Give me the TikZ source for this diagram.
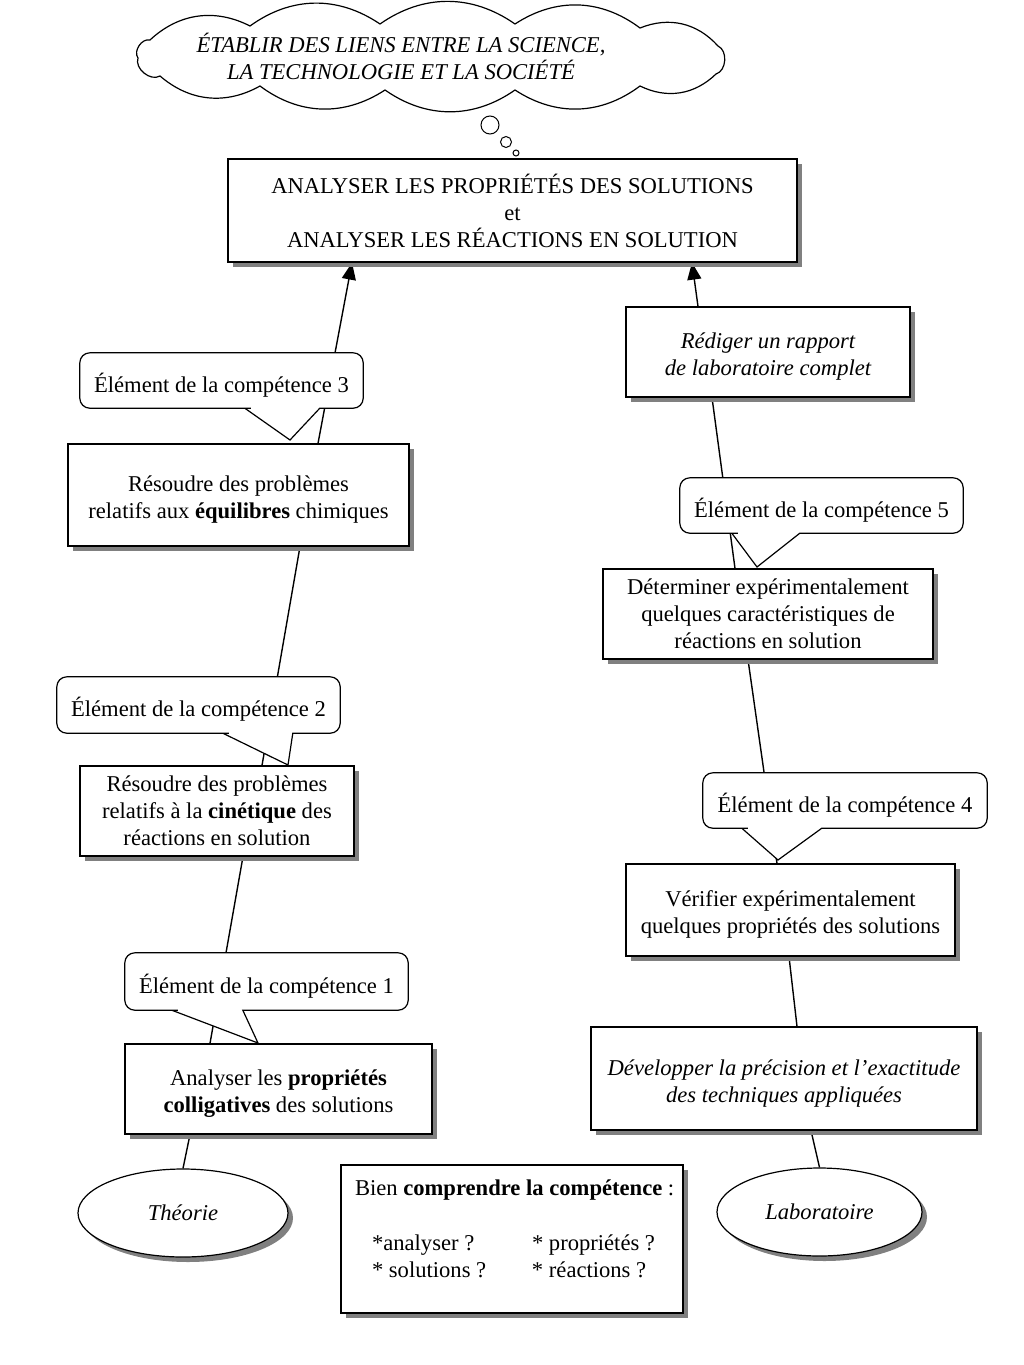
\documentclass[tikz,border=0pt]{standalone}
\usepackage{fontspec}
\setmainfont{Liberation Serif}
\usetikzlibrary{shapes.geometric,shadows,arrows.meta,calc}
\pgfdeclarelayer{bg}
\pgfdeclarelayer{mid}
\pgfsetlayers{bg,mid,main}
\newcommand{\hstrut}{\rule{0pt}{25pt}}
\newcommand{\calloutpath}[4]{%
  \filldraw[cline] ($(#1.south west)+(#2,0)$) -- #4 -- ($(#1.south west)+(#3,0)$) -- ($(#1.south west)+(#3+4,0)$)
    [rounded corners=10pt] -- (#1.south east) -- (#1.north east) -- (#1.north west) -- (#1.south west)
    -- ($(#1.south west)+(#2-4,0)$) [sharp corners] -- cycle;}
\begin{document}
\begin{tikzpicture}[x=1pt,y=-1pt,
  txt/.style={font=\fontsize{22.6}{27}\selectfont, align=center, inner sep=0pt},
  itxt/.style={font=\fontsize{22.6}{27}\selectfont\itshape, align=center, inner sep=0pt},
  shad/.style={drop shadow={shadow xshift=5pt, shadow yshift=-5pt, fill=black!50, opacity=1}},
  box/.style={rectangle, draw, fill=white, line width=1.2pt, shad},
  oval/.style={ellipse, draw, fill=white, line width=1.2pt, shad},
  ctext/.style={txt, rectangle, execute at begin node={\rule{0pt}{28pt}}},
  cline/.style={draw=black, fill=white, line width=1.2pt, line join=miter},
  cloudline/.style={draw=black, fill=white, line width=1.2pt},
  link/.style={line width=1.4pt},
  arr/.style={link, -{Triangle[length=17pt,width=14pt]}},
  bub/.style={circle, draw, line width=1pt, inner sep=0pt}
]
\useasboundingbox (0,0) rectangle (1024,1365);
\begin{pgfonlayer}{bg}
\fill[white] (0,0) rectangle (1024,1365);
\end{pgfonlayer}

% cloud
\draw[cloudline] (150,40) to[bend left=35] (250,26) to[bend left=35] (380,24) to[bend left=35] (515,24)
  to[bend left=35] (640,28) to[bend left=35] (718,46) to[bend left=70] (716,74) to[bend left=35] (640,86)
  to[bend left=35] (515,90) to[bend left=35] (385,90) to[bend left=35] (260,86) to[bend left=35] (160,76)
  to[bend left=70] (138,58) to[bend left=70] (150,40) -- cycle;
\node[itxt] (cloudtxt) at (401,56) {ÉTABLIR DES LIENS ENTRE LA SCIENCE,\\LA TECHNOLOGIE ET LA SOCIÉTÉ};
\node[bub, minimum size=18pt] (b1) at (490,125) {};
\node[bub, minimum size=11pt] (b2) at (506,142) {};
\node[bub, minimum size=6pt] (b3) at (516,153) {};

% boxes
\node[box, txt, minimum width=569pt, minimum height=103pt] (top) at (512.5,210.5)
  {ANALYSER LES PROPRIÉTÉS DES SOLUTIONS\\et\\ANALYSER LES RÉACTIONS EN SOLUTION};
\node[box, itxt, minimum width=284pt, minimum height=90pt] (red) at (768,352)
  {\hstrut Rédiger un rapport\\de laboratoire complet};
\node[box, txt, minimum width=341pt, minimum height=102pt] (eq) at (238.5,495)
  {\hstrut Résoudre des problèmes\\relatifs aux \textbf{équilibres} chimiques};
\node[box, txt, minimum width=274pt, minimum height=90pt] (cin) at (217,811)
  {Résoudre des problèmes\\relatifs à la \textbf{cinétique} des\\réactions en solution};
\node[box, txt, minimum width=307pt, minimum height=90pt] (ana) at (278.5,1089)
  {\hstrut Analyser les \textbf{propriétés}\\\textbf{colligatives} des solutions};
\node[box, txt, minimum width=330pt, minimum height=90pt] (det) at (768,614)
  {Déterminer expérimentalement\\quelques caractéristiques de\\réactions en solution};
\node[box, txt, minimum width=329pt, minimum height=92pt] (ver) at (790.5,910)
  {\hstrut Vérifier expérimentalement\\quelques propriétés des solutions};
\node[box, itxt, minimum width=386pt, minimum height=103pt] (dev) at (784,1078.5)
  {\hstrut Développer la précision et l’exactitude\\des techniques appliquées};
\node[oval, itxt, minimum width=210pt, minimum height=88pt] (theo) at (183,1213) {Théorie};
\node[oval, itxt, minimum width=205pt, minimum height=88pt] (labo) at (819.5,1212) {Laboratoire};
\node[box, txt, align=left, minimum width=342pt, minimum height=148pt] (bien) at (512,1239)
  {\parbox[t][118pt][t]{314pt}{\mbox{Bien \textbf{comprendre la compétence} :}\\[28pt]%
   \hspace*{17pt}\makebox[160pt][l]{*analyser ?}* propriétés ?\\%
   \hspace*{17pt}\makebox[160pt][l]{* solutions ?}* réactions ?}};

% callout texts
\node[ctext, minimum width=283pt, minimum height=55pt] (c3) at (221.5,380.5) {Élément de la compétence 3};
\node[ctext, minimum width=283pt, minimum height=56pt] (c2) at (198.5,705) {Élément de la compétence 2};
\node[ctext, minimum width=283pt, minimum height=57pt] (c1) at (266.5,981.5) {Élément de la compétence 1};
\node[ctext, minimum width=283pt, minimum height=55pt] (c5) at (821.5,505.5) {Élément de la compétence 5};
\node[ctext, minimum width=284pt, minimum height=55pt] (c4) at (845,800.5) {Élément de la compétence 4};

% connectors
\begin{pgfonlayer}{bg}
\draw[arr] ($(eq.north)+(79.5,0)$) -- ($(top.south)+(-160.5,0)$);
\draw[arr] ($(red.north)+(-70,0)$) -- ($(top.south)+(179.5,0)$);
\draw[link] ($(eq.south)+(61.5,0)$) -- ($(cin.north)+(45,0)$);
\draw[link] ($(cin.south)+(26,0)$) -- ($(ana.north)+(-68.5,0)$);
\draw[link] ($(ana.south)+(-88.5,0)$) -- (theo.north);
\draw[link] ($(red.south)+(-56,0)$) -- ($(det.north)+(-33,0)$);
\draw[link] ($(det.south)+(-20,0)$) -- ($(ver.north)+(-13.5,0)$);
\draw[link] ($(ver.south)+(-1.5,0)$) -- ($(dev.north)+(13,0)$);
\draw[link] ($(dev.south)+(27,0)$) -- (labo.north);
\end{pgfonlayer}

% callout outlines
\begin{pgfonlayer}{mid}
\calloutpath{c3}{165}{240}{(290,440)}
\calloutpath{c2}{166}{236}{(288,765)}
\calloutpath{c1}{47}{118}{(258,1043)}
\calloutpath{c5}{52}{120}{(757,567)}
\calloutpath{c4}{39}{119}{(778,860)}
\end{pgfonlayer}
\end{tikzpicture}
\end{document}
